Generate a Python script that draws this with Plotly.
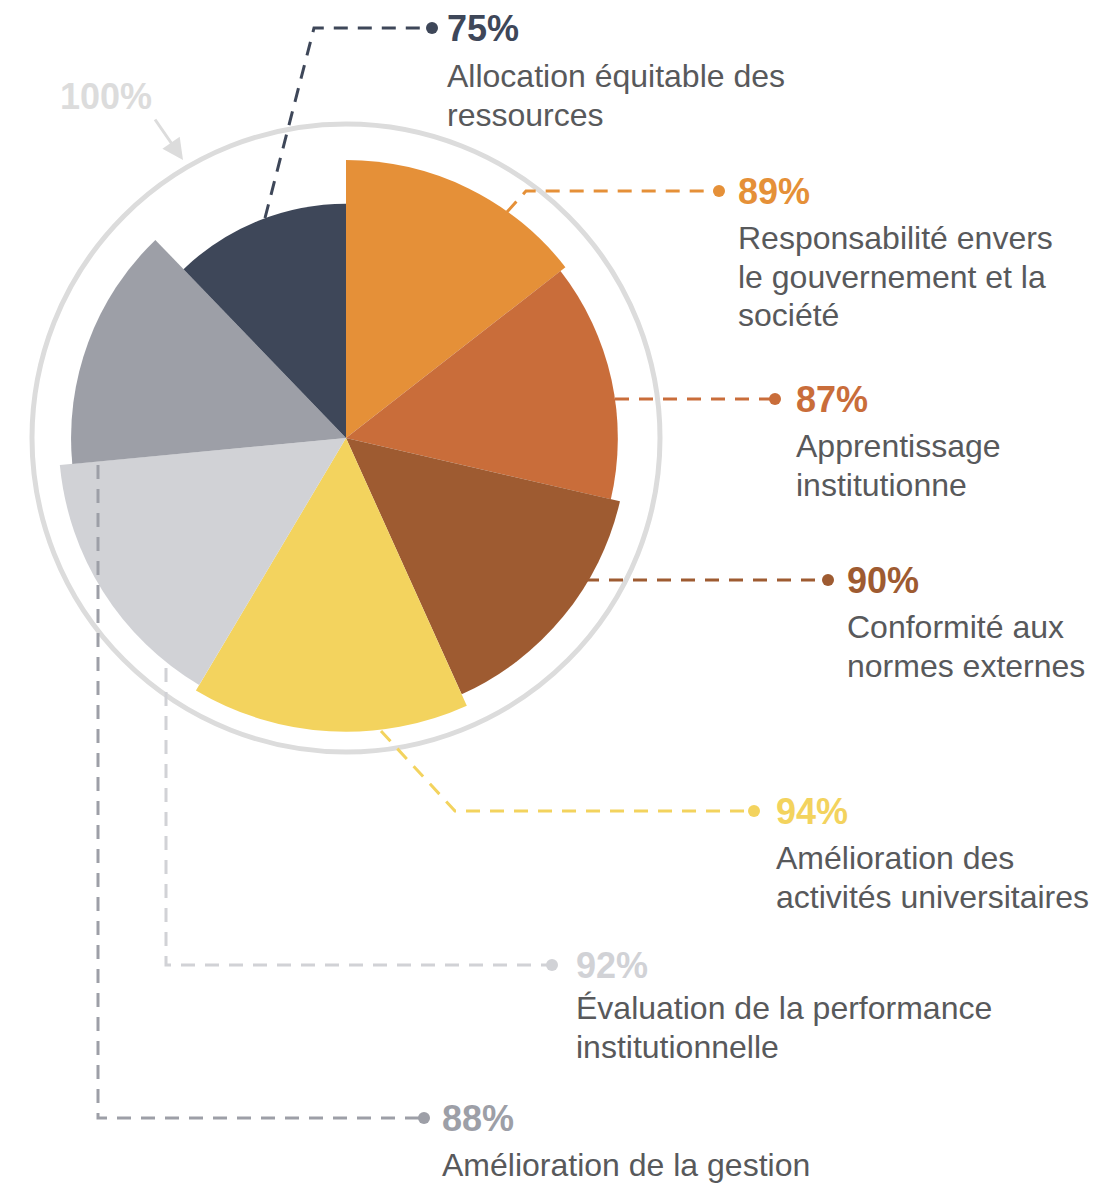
import numpy as np
import plotly.graph_objects as go

# Données (sens horaire depuis le haut)
categories = [
    "Responsabilité envers le gouvernement et la société",
    "Apprentissage institutionne",
    "Conformité aux normes externes",
    "Amélioration des activités universitaires",
    "Évaluation de la performance institutionnelle",
    "Amélioration de la gestion",
    "Allocation équitable des ressources",
]
values = [89, 87, 90, 94, 92, 88, 75]
label_lines = [
    ["Responsabilité envers", "le gouvernement et la", "société"],
    ["Apprentissage", "institutionne"],
    ["Conformité aux", "normes externes"],
    ["Amélioration des", "activités universitaires"],
    ["Évaluation de la performance", "institutionnelle"],
    ["Amélioration de la gestion"],
    ["Allocation équitable des", "ressources"],
]
colors = ["#E59038", "#C96D3A", "#9E5B31", "#F3D35E", "#D1D2D6", "#9D9FA7", "#3E4759"]

W, H = 1118, 1183
OFF = 8  # marge par défaut du <body> de la page
FONT = "Liberation Sans, Arial, sans-serif"
TEXT_COLOR = "#58595B"
RING = "#DCDCDC"

# angle de chaque secteur proportionnel à la valeur
total = sum(values)
spans = np.array(values) / total * 360
mids = np.cumsum(spans) - spans / 2

# mise en page des étiquettes (pixels de la page) : lignes de rappel -> point, puis texte
leaders = [
    [(507, 212), (526, 191), (719, 191)],
    [(615, 399), (775, 399)],
    [(585, 580), (828, 580)],
    [(381, 731), (455, 811), (754, 811)],
    [(166, 668), (166, 965), (552, 965)],
    [(98, 465), (98, 1118), (424, 1118)],
    [(265, 218), (314, 28), (432, 28)],
]
text_x = [736, 794, 845, 774, 574, 440, 445]
body_gap = [47, 47, 47, 47, 43, 47, 48]

cx, cy, R = 346 - OFF, 438 - OFF, 314

fig = go.Figure()
fig.add_trace(go.Barpolar(
    r=values, theta=mids, width=spans,
    marker=dict(color=colors, line=dict(width=0)),
    hovertext=categories, hoverinfo="text",
))

# points au bout des lignes
dots_x = [l[-1][0] for l in leaders]
dots_y = [l[-1][1] for l in leaders]
fig.add_trace(go.Scatter(
    x=dots_x, y=dots_y, mode="markers",
    marker=dict(size=12, color=colors), hoverinfo="skip",
))

shapes = []
annotations = []
for i, pts in enumerate(leaders):
    path = "M " + " L ".join(f"{x},{y}" for x, y in pts)
    shapes.append(dict(type="path", path=path, xref="x", yref="y", layer="above",
                       line=dict(color=colors[i], width=3, dash="14px,10px")))
    dy = pts[-1][1]
    annotations.append(dict(x=text_x[i], y=dy, xref="x", yref="y", text=f"<b>{values[i]}%</b>",
                            showarrow=False, xanchor="left", yanchor="middle",
                            font=dict(family=FONT, size=36, color=colors[i])))
    for k, line in enumerate(label_lines[i]):
        annotations.append(dict(x=text_x[i], y=dy + body_gap[i] + 38.5 * k, xref="x", yref="y",
                                text=line, showarrow=False, xanchor="left", yanchor="middle",
                                font=dict(family=FONT, size=32, color=TEXT_COLOR)))

# repère 100 %
annotations.append(dict(x=106, y=96, xref="x", yref="y", text="<b>100%</b>", showarrow=False,
                        font=dict(family=FONT, size=36, color=RING)))
annotations.append(dict(x=183, y=160, xref="x", yref="y", ax=154, ay=118, axref="x", ayref="y",
                        text="", showarrow=True, arrowhead=2, arrowsize=1.4, arrowwidth=3,
                        arrowcolor=RING, standoff=0))

fig.update_layout(
    width=W, height=H,
    margin=dict(l=0, r=0, t=0, b=0),
    paper_bgcolor="white", plot_bgcolor="white",
    showlegend=False,
    polar=dict(
        domain=dict(x=[(cx - R) / W, (cx + R) / W], y=[1 - (cy + R) / H, 1 - (cy - R) / H]),
        bgcolor="white",
        radialaxis=dict(range=[0, 100.5], visible=False),
        angularaxis=dict(rotation=90, direction="clockwise", showticklabels=False, ticks="",
                         showgrid=False, showline=True, linecolor=RING, linewidth=5),
    ),
    xaxis=dict(range=[OFF, W + OFF], visible=False, fixedrange=True, domain=[0, 1]),
    yaxis=dict(range=[H + OFF, OFF], visible=False, fixedrange=True, domain=[0, 1]),
    shapes=shapes,
    annotations=annotations,
)

fig.write_html("out.html")
